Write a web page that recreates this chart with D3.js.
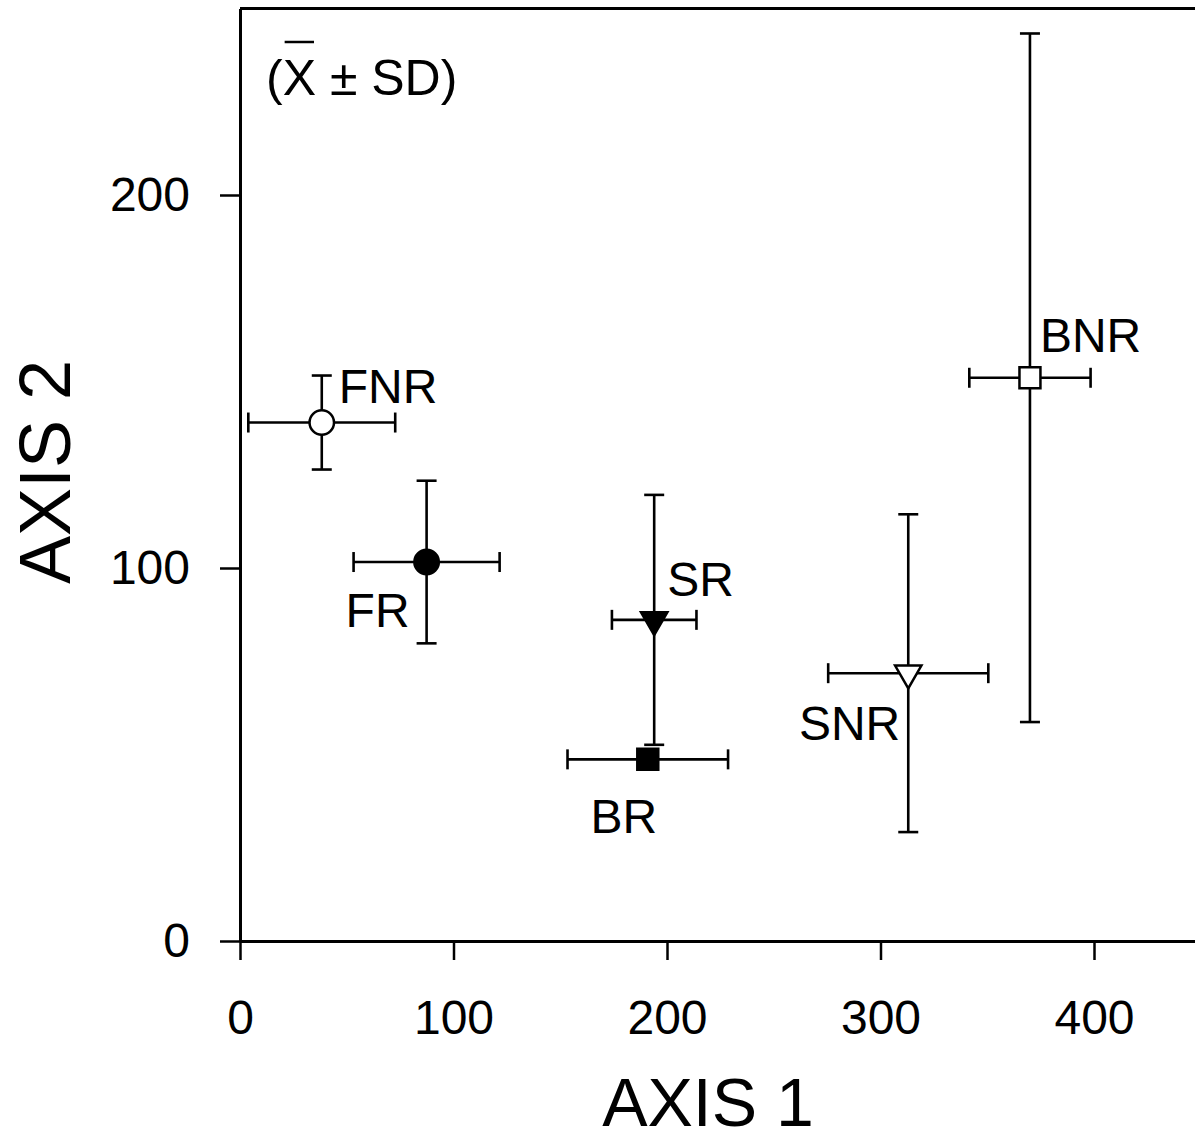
<!DOCTYPE html>
<html>
<head>
<meta charset="UTF-8" />
<script src="https://d3js.org/d3.v7.min.js"></script>
<style>
  body { margin: 0; background: #fff; }
  text { font-family: "Liberation Sans", Arial, Helvetica, sans-serif; fill: #000; }
</style>
</head>
<body>
<div id="chart"></div>
<script>
// group means and standard deviations on the two ordination axes
var groups = ["FNR", "FR", "SR", "BR", "SNR", "BNR"];
var axis1Mean = [38.3, 87.4, 194, 191, 313, 370];
var axis1SD = [34.4, 34.2, 19.8, 37.6, 37.5, 28.4];
var axis2Mean = [139, 101.6, 86.1, 48.7, 71.8, 151];
var axis2SD = [12.6, 21.8, 33.5, 2, 42.6, 92.3];
var markerShape = ["circle", "circle", "triangle", "square", "triangle", "square"];
var markerFilled = [false, true, true, true, false, false];
var xTicks = [0, 100, 200, 300, 400];
var yTicks = [0, 100, 200];

var W = 1195, H = 1145;
var svg = d3.select("#chart").append("svg")
  .attr("width", W).attr("height", H);

var x = d3.scaleLinear().domain([0, 450]).range([240, 240 + 450 * 2.135]);
var y = d3.scaleLinear().domain([0, 250]).range([941, 941 - 250 * 3.73]);

var data = groups.map(function(g, i) {
  return { name: g, x: axis1Mean[i], y: axis2Mean[i], sx: axis1SD[i], sy: axis2SD[i],
           shape: markerShape[i], filled: markerFilled[i] };
});

// top frame line
svg.append("line")
  .attr("x1", x(0)).attr("x2", x(450))
  .attr("y1", y(250)).attr("y2", y(250))
  .attr("stroke", "#000").attr("stroke-width", 3);

// x axis
var gx = svg.append("g")
  .attr("transform", "translate(0," + y(0) + ")")
  .call(d3.axisBottom(x).tickValues(xTicks).tickSizeInner(19).tickSizeOuter(0).tickPadding(40));
gx.select(".domain").attr("stroke-width", 3);
gx.selectAll(".tick line").attr("stroke-width", 2.5);
gx.selectAll(".tick text").style("font-size", "48px").attr("font-family", null);

// y axis
var gy = svg.append("g")
  .attr("transform", "translate(" + x(0) + ",0)")
  .call(d3.axisLeft(y).tickValues(yTicks).tickSizeInner(20).tickSizeOuter(0).tickPadding(30));
gy.select(".domain").attr("stroke-width", 3);
gy.selectAll(".tick line").attr("stroke-width", 2.5);
gy.selectAll(".tick text").style("font-size", "48px").attr("font-family", null);

// axis titles
svg.append("text")
  .attr("x", 708).attr("y", 1126)
  .attr("text-anchor", "middle")
  .style("font-size", "68px")
  .text("AXIS 1");

svg.append("text")
  .attr("transform", "translate(70,472)rotate(-90)")
  .attr("text-anchor", "middle")
  .style("font-size", "72px")
  .text("AXIS 2");

// (X ± SD) note with a bar over the X
var note = svg.append("text")
  .attr("x", 266).attr("y", 95)
  .style("font-size", "50px")
  .text("(X \u00B1 SD)");
var bX = note.node().getExtentOfChar(1);
svg.append("line")
  .attr("x1", bX.x + 2).attr("x2", bX.x + bX.width - 2)
  .attr("y1", 42).attr("y2", 42)
  .attr("stroke", "#000").attr("stroke-width", 2.5);

// error bars
var cap = 10;
var bars = svg.append("g").attr("stroke", "#000").attr("stroke-width", 2.6);
data.forEach(function(d) {
  var cx = x(d.x), cy = y(d.y);
  var x0 = x(d.x - d.sx), x1 = x(d.x + d.sx);
  var y0 = y(d.y - d.sy), y1 = y(d.y + d.sy);
  bars.append("line").attr("x1", x0).attr("x2", x1).attr("y1", cy).attr("y2", cy);
  bars.append("line").attr("x1", x0).attr("x2", x0).attr("y1", cy - cap).attr("y2", cy + cap);
  bars.append("line").attr("x1", x1).attr("x2", x1).attr("y1", cy - cap).attr("y2", cy + cap);
  bars.append("line").attr("x1", cx).attr("x2", cx).attr("y1", y0).attr("y2", y1);
  bars.append("line").attr("x1", cx - cap).attr("x2", cx + cap).attr("y1", y0).attr("y2", y0);
  bars.append("line").attr("x1", cx - cap).attr("x2", cx + cap).attr("y1", y1).attr("y2", y1);
});

// markers
var symbolSize = { circle: 470, triangle: 300, square: 440 };
var symbolType = { circle: d3.symbolCircle, triangle: d3.symbolTriangle, square: d3.symbolSquare };
svg.append("g").selectAll("path")
  .data(data)
  .enter().append("path")
  .attr("d", function(d) { return d3.symbol().type(symbolType[d.shape]).size(symbolSize[d.shape])(); })
  .attr("transform", function(d) {
    return "translate(" + x(d.x) + "," + y(d.y) + ")" + (d.shape == "triangle" ? " rotate(180)" : "");
  })
  .attr("fill", function(d) { return d.filled ? "#000" : "#fff"; })
  .attr("stroke", "#000")
  .attr("stroke-width", 2.5);

// group labels
var labelPos = {
  FNR: { dx: 17, dy: -20, anchor: "start" },
  FR: { dx: -17, dy: 65, anchor: "end" },
  SR: { dx: 13, dy: -24, anchor: "start" },
  BR: { dx: -24, dy: 74, anchor: "middle" },
  SNR: { dx: -8, dy: 67, anchor: "end" },
  BNR: { dx: 10, dy: -26, anchor: "start" }
};
svg.append("g").selectAll("text")
  .data(data)
  .enter().append("text")
  .attr("x", function(d) { return x(d.x) + labelPos[d.name].dx; })
  .attr("y", function(d) { return y(d.y) + labelPos[d.name].dy; })
  .attr("text-anchor", function(d) { return labelPos[d.name].anchor; })
  .style("font-size", "48px")
  .text(function(d) { return d.name; });
</script>
</body>
</html>
